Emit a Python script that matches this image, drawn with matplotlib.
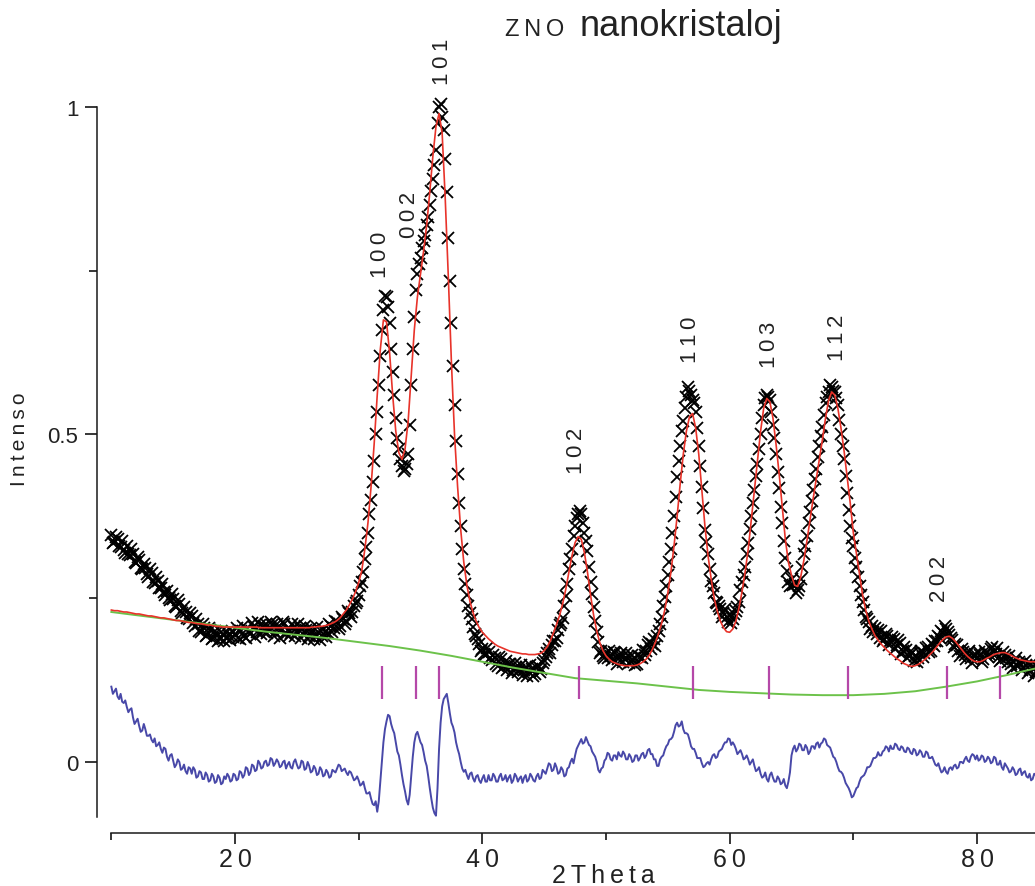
import numpy as np
import matplotlib.pyplot as plt

plt.rcParams['font.family'] = ['Liberation Sans', 'DejaVu Sans']

# 2theta grid of the scan (0.25 deg step) and the in-between points
two_theta = np.round(np.arange(10, 85.001, 0.25), 3)
two_theta_mid = two_theta[:-1] + 0.125

# observed intensity (black crosses) on the main grid
obs = [
    0.347, 0.336, 0.341, 0.328, 0.324, 0.329, 0.316, 0.317, 0.304, 0.308, 0.295, 0.296, 0.283, 0.288, 0.274, 0.276, 0.265, 0.260, 0.261, 0.248,
    0.249, 0.236, 0.241, 0.227, 0.229, 0.218, 0.223, 0.207, 0.211, 0.199, 0.205, 0.194, 0.202, 0.190, 0.197, 0.188, 0.196, 0.189, 0.192, 0.200,
    0.196, 0.190, 0.200, 0.193, 0.203, 0.195, 0.206, 0.198, 0.209, 0.200, 0.211, 0.203, 0.209, 0.199, 0.206, 0.200, 0.210, 0.202, 0.197, 0.206,
    0.199, 0.205, 0.195, 0.201, 0.193, 0.200, 0.192, 0.199, 0.192, 0.198, 0.197, 0.207, 0.205, 0.214, 0.208, 0.218, 0.216, 0.228, 0.229, 0.242,
    0.255, 0.275, 0.310, 0.350, 0.400, 0.460, 0.535, 0.620, 0.690, 0.710, 0.670, 0.595, 0.525, 0.478, 0.452, 0.448, 0.470, 0.575, 0.680, 0.745,
    0.770, 0.795, 0.820, 0.850, 0.890, 0.935, 1.000, 0.985, 0.920, 0.800, 0.670, 0.545, 0.440, 0.360, 0.295, 0.255, 0.228, 0.206, 0.193, 0.180,
    0.173, 0.163, 0.168, 0.156, 0.158, 0.147, 0.157, 0.147, 0.141, 0.149, 0.140, 0.145, 0.141, 0.133, 0.145, 0.137, 0.142, 0.134, 0.147, 0.142,
    0.155, 0.166, 0.167, 0.185, 0.190, 0.209, 0.220, 0.254, 0.295, 0.325, 0.360, 0.379, 0.378, 0.350, 0.322, 0.275, 0.236, 0.198, 0.166, 0.162,
    0.167, 0.169, 0.155, 0.166, 0.157, 0.166, 0.157, 0.162, 0.152, 0.159, 0.150, 0.160, 0.171, 0.169, 0.183, 0.180, 0.177, 0.200, 0.222, 0.252,
    0.285, 0.325, 0.375, 0.435, 0.483, 0.520, 0.557, 0.567, 0.552, 0.535, 0.482, 0.420, 0.354, 0.317, 0.276, 0.258, 0.242, 0.233, 0.228, 0.222,
    0.225, 0.218, 0.230, 0.245, 0.275, 0.298, 0.335, 0.375, 0.415, 0.455, 0.500, 0.545, 0.560, 0.552, 0.515, 0.470, 0.418, 0.365, 0.312, 0.275,
    0.280, 0.272, 0.262, 0.280, 0.318, 0.345, 0.382, 0.415, 0.448, 0.482, 0.512, 0.548, 0.565, 0.572, 0.565, 0.545, 0.500, 0.462, 0.410, 0.360,
    0.330, 0.298, 0.268, 0.245, 0.222, 0.213, 0.208, 0.205, 0.201, 0.200, 0.187, 0.192, 0.184, 0.187, 0.178, 0.181, 0.169, 0.171, 0.162, 0.166,
    0.162, 0.159, 0.170, 0.166, 0.175, 0.170, 0.177, 0.185, 0.190, 0.197, 0.203, 0.194, 0.186, 0.180, 0.170, 0.172, 0.163, 0.166, 0.158, 0.162,
    0.158, 0.163, 0.157, 0.166, 0.165, 0.175, 0.165, 0.161, 0.157, 0.163, 0.153, 0.150, 0.152, 0.146, 0.150, 0.143, 0.148, 0.140, 0.145, 0.138,
    0.142,
]

# observed intensity at the in-between points
obs_mid = [
    0.335, 0.344, 0.330, 0.338, 0.319, 0.318, 0.325, 0.306, 0.313, 0.296, 0.302, 0.287, 0.294, 0.275, 0.283, 0.266, 0.272, 0.255, 0.250, 0.257,
    0.238, 0.247, 0.230, 0.236, 0.220, 0.227, 0.212, 0.219, 0.200, 0.210, 0.193, 0.204, 0.187, 0.200, 0.185, 0.199, 0.184, 0.198, 0.186, 0.191,
    0.204, 0.187, 0.208, 0.189, 0.199, 0.212, 0.191, 0.214, 0.195, 0.207, 0.197, 0.214, 0.193, 0.211, 0.190, 0.213, 0.196, 0.192, 0.210, 0.192,
    0.210, 0.190, 0.207, 0.188, 0.205, 0.187, 0.206, 0.186, 0.203, 0.191, 0.210, 0.198, 0.216, 0.203, 0.222, 0.210, 0.230, 0.221, 0.238, 0.246,
    0.268, 0.290, 0.328, 0.378, 0.428, 0.500, 0.575, 0.660, 0.712, 0.695, 0.630, 0.560, 0.495, 0.462, 0.445, 0.455, 0.515, 0.630, 0.720, 0.760,
    0.785, 0.805, 0.832, 0.872, 0.912, 0.975, 1.005, 0.965, 0.870, 0.735, 0.605, 0.490, 0.395, 0.325, 0.272, 0.238, 0.218, 0.196, 0.188, 0.170,
    0.165, 0.174, 0.158, 0.163, 0.150, 0.160, 0.143, 0.154, 0.150, 0.136, 0.151, 0.137, 0.148, 0.141, 0.132, 0.148, 0.131, 0.145, 0.138, 0.151,
    0.160, 0.172, 0.178, 0.184, 0.202, 0.212, 0.238, 0.272, 0.310, 0.345, 0.372, 0.383, 0.365, 0.338, 0.298, 0.256, 0.215, 0.183, 0.170, 0.158,
    0.158, 0.162, 0.168, 0.150, 0.164, 0.152, 0.166, 0.151, 0.163, 0.148, 0.162, 0.158, 0.164, 0.178, 0.172, 0.188, 0.192, 0.210, 0.238, 0.268,
    0.305, 0.350, 0.405, 0.460, 0.505, 0.540, 0.572, 0.560, 0.548, 0.510, 0.452, 0.388, 0.336, 0.295, 0.268, 0.245, 0.238, 0.222, 0.233, 0.214,
    0.212, 0.226, 0.236, 0.262, 0.285, 0.318, 0.355, 0.396, 0.436, 0.478, 0.525, 0.556, 0.558, 0.535, 0.495, 0.442, 0.390, 0.338, 0.292, 0.268,
    0.270, 0.258, 0.268, 0.298, 0.330, 0.365, 0.398, 0.432, 0.465, 0.498, 0.530, 0.558, 0.575, 0.566, 0.556, 0.522, 0.482, 0.436, 0.385, 0.342,
    0.312, 0.282, 0.255, 0.232, 0.218, 0.203, 0.198, 0.196, 0.190, 0.185, 0.196, 0.178, 0.191, 0.172, 0.186, 0.165, 0.176, 0.158, 0.170, 0.154,
    0.153, 0.166, 0.160, 0.174, 0.168, 0.180, 0.184, 0.192, 0.200, 0.208, 0.198, 0.190, 0.176, 0.178, 0.162, 0.168, 0.157, 0.170, 0.151, 0.165,
    0.168, 0.152, 0.170, 0.160, 0.172, 0.168, 0.174, 0.154, 0.168, 0.158, 0.162, 0.144, 0.158, 0.152, 0.140, 0.154, 0.136, 0.150, 0.132, 0.146,
]

# calculated profile (red)
calc = [
    0.232, 0.231, 0.231, 0.230, 0.229, 0.229, 0.228, 0.227, 0.226, 0.226, 0.225, 0.224, 0.223, 0.223, 0.222, 0.221, 0.220, 0.220, 0.219, 0.218,
    0.217, 0.216, 0.216, 0.215, 0.214, 0.213, 0.213, 0.212, 0.211, 0.211, 0.210, 0.209, 0.209, 0.208, 0.207, 0.207, 0.206, 0.206, 0.206, 0.206,
    0.206, 0.206, 0.206, 0.206, 0.206, 0.206, 0.206, 0.206, 0.205, 0.205, 0.205, 0.205, 0.205, 0.205, 0.205, 0.205, 0.205, 0.205, 0.205, 0.205,
    0.205, 0.205, 0.205, 0.205, 0.205, 0.206, 0.206, 0.207, 0.207, 0.208, 0.209, 0.211, 0.213, 0.216, 0.220, 0.226, 0.232, 0.240, 0.249, 0.260,
    0.274, 0.292, 0.325, 0.365, 0.420, 0.485, 0.560, 0.630, 0.675, 0.672, 0.625, 0.560, 0.505, 0.472, 0.462, 0.478, 0.520, 0.590, 0.660, 0.710,
    0.745, 0.780, 0.820, 0.870, 0.925, 0.970, 0.990, 0.960, 0.860, 0.740, 0.610, 0.500, 0.420, 0.355, 0.305, 0.270, 0.245, 0.228, 0.215, 0.205,
    0.198, 0.193, 0.188, 0.184, 0.180, 0.177, 0.175, 0.173, 0.171, 0.169, 0.168, 0.167, 0.166, 0.165, 0.165, 0.164, 0.164, 0.164, 0.165, 0.166,
    0.170, 0.176, 0.185, 0.197, 0.210, 0.224, 0.242, 0.264, 0.290, 0.315, 0.335, 0.344, 0.340, 0.320, 0.290, 0.255, 0.224, 0.200, 0.182, 0.170,
    0.162, 0.157, 0.153, 0.151, 0.149, 0.148, 0.147, 0.147, 0.147, 0.147, 0.148, 0.150, 0.153, 0.157, 0.163, 0.172, 0.183, 0.196, 0.212, 0.232,
    0.258, 0.290, 0.330, 0.375, 0.425, 0.470, 0.505, 0.527, 0.532, 0.510, 0.470, 0.415, 0.360, 0.315, 0.280, 0.250, 0.230, 0.215, 0.205, 0.199,
    0.198, 0.203, 0.215, 0.235, 0.260, 0.290, 0.325, 0.370, 0.415, 0.460, 0.505, 0.540, 0.555, 0.550, 0.525, 0.485, 0.440, 0.390, 0.340, 0.305,
    0.285, 0.270, 0.268, 0.283, 0.308, 0.338, 0.370, 0.402, 0.432, 0.462, 0.492, 0.525, 0.552, 0.565, 0.560, 0.540, 0.510, 0.475, 0.435, 0.395,
    0.350, 0.318, 0.285, 0.255, 0.232, 0.215, 0.203, 0.193, 0.186, 0.180, 0.175, 0.170, 0.166, 0.162, 0.158, 0.155, 0.151, 0.149, 0.147, 0.146,
    0.147, 0.149, 0.152, 0.156, 0.160, 0.165, 0.170, 0.176, 0.182, 0.187, 0.191, 0.192, 0.189, 0.184, 0.178, 0.172, 0.166, 0.161, 0.157, 0.154,
    0.153, 0.153, 0.155, 0.158, 0.160, 0.163, 0.165, 0.166, 0.167, 0.167, 0.165, 0.163, 0.160, 0.158, 0.156, 0.155, 0.154, 0.153, 0.153, 0.153,
    0.153,
]

# difference curve (blue) on the main grid
diff = [
    0.115, 0.108, 0.100, 0.104, 0.090, 0.084, 0.080, 0.068, 0.062, 0.055, 0.048, 0.050, 0.040, 0.034, 0.036, 0.026, 0.020, 0.022, 0.008, 0.010,
    0.002, -0.004, 0.000, -0.010, -0.014, -0.008, -0.018, -0.012, -0.022, -0.016, -0.026, -0.020, -0.028, -0.022, -0.030, -0.024, -0.032, -0.026, -0.022, -0.028,
    -0.020, -0.026, -0.016, -0.020, -0.010, -0.016, -0.006, -0.012, -0.002, -0.008, 0.002, -0.004, 0.004, -0.002, 0.000, -0.006, 0.002, -0.004, -0.008, 0.000,
    -0.004, -0.008, 0.000, -0.010, -0.006, -0.014, -0.010, -0.018, -0.012, -0.020, -0.016, -0.022, -0.014, -0.010, -0.006, -0.012, -0.016, -0.014, -0.022, -0.026,
    -0.028, -0.034, -0.040, -0.048, -0.056, -0.066, -0.076, -0.030, 0.030, 0.062, 0.070, 0.050, 0.030, 0.010, -0.020, -0.045, -0.065, -0.020, 0.030, 0.046,
    0.030, 0.015, -0.006, -0.040, -0.070, -0.082, 0.020, 0.085, 0.100, 0.090, 0.060, 0.045, 0.020, 0.000, -0.015, -0.020, -0.018, -0.025, -0.022, -0.028,
    -0.025, -0.030, -0.020, -0.028, -0.022, -0.030, -0.018, -0.026, -0.030, -0.020, -0.028, -0.022, -0.025, -0.032, -0.020, -0.027, -0.022, -0.030, -0.018, -0.024,
    -0.015, -0.010, -0.004, -0.012, -0.008, -0.016, -0.012, -0.020, -0.008, 0.005, 0.010, 0.025, 0.035, 0.030, 0.032, 0.024, 0.012, 0.000, -0.016, -0.008,
    0.005, 0.012, 0.002, 0.010, 0.015, 0.008, 0.012, 0.004, 0.008, 0.002, 0.010, 0.006, 0.014, 0.010, 0.020, 0.012, 0.004, -0.006, 0.008, 0.018,
    0.027, 0.035, 0.046, 0.060, 0.056, 0.050, 0.044, 0.034, 0.020, 0.014, 0.006, -0.002, -0.006, 0.000, 0.004, 0.012, 0.008, 0.018, 0.026, 0.030,
    0.035, 0.030, 0.020, 0.015, 0.012, 0.006, 0.004, 0.000, -0.006, -0.012, -0.018, -0.022, -0.026, -0.020, -0.024, -0.030, -0.026, -0.032, -0.036, -0.030,
    0.010, 0.025, 0.020, 0.026, 0.018, 0.022, 0.016, 0.024, 0.028, 0.022, 0.030, 0.034, 0.024, 0.015, 0.006, -0.008, -0.015, -0.024, -0.036, -0.046,
    -0.052, -0.040, -0.030, -0.022, -0.015, -0.008, 0.000, 0.006, 0.015, 0.010, 0.018, 0.022, 0.025, 0.020, 0.026, 0.018, 0.022, 0.015, 0.020, 0.012,
    0.018, 0.012, 0.015, 0.008, 0.014, 0.006, 0.002, -0.006, -0.010, -0.014, -0.015, -0.010, -0.012, -0.004, -0.008, 0.000, 0.004, 0.002, 0.008, 0.010,
    0.010, 0.004, 0.008, 0.002, 0.005, 0.000, 0.006, -0.004, -0.008, -0.002, -0.010, -0.014, -0.012, -0.018, -0.010, -0.016, -0.022, -0.018, -0.026, -0.020,
    -0.024,
]

# difference curve at the in-between points
diff_mid = [
    0.104, 0.112, 0.096, 0.092, 0.094, 0.076, 0.082, 0.058, 0.066, 0.046, 0.058, 0.040, 0.042, 0.030, 0.024, 0.030, 0.014, 0.020, 0.002, 0.012,
    -0.008, 0.004, -0.012, -0.004, -0.018, -0.010, -0.008, -0.024, -0.014, -0.026, -0.016, -0.030, -0.018, -0.032, -0.020, -0.034, -0.022, -0.018, -0.030, -0.018,
    -0.028, -0.014, -0.024, -0.008, -0.020, -0.004, -0.014, 0.002, -0.010, 0.000, -0.006, 0.006, -0.006, 0.004, -0.008, 0.000, -0.010, 0.000, -0.010, 0.004,
    -0.010, 0.002, -0.012, 0.000, -0.016, -0.006, -0.020, -0.008, -0.022, -0.012, -0.024, -0.012, -0.016, -0.004, -0.014, -0.010, -0.020, -0.016, -0.028, -0.022,
    -0.036, -0.030, -0.048, -0.046, -0.064, -0.060, -0.060, 0.000, 0.050, 0.072, 0.058, 0.044, 0.016, -0.004, -0.034, -0.058, -0.050, 0.008, 0.042, 0.038,
    0.026, 0.002, -0.022, -0.056, -0.078, -0.040, 0.060, 0.096, 0.104, 0.074, 0.054, 0.030, 0.012, -0.010, -0.012, -0.026, -0.016, -0.030, -0.020, -0.032,
    -0.020, -0.030, -0.028, -0.018, -0.030, -0.022, -0.028, -0.020, -0.024, -0.032, -0.018, -0.030, -0.022, -0.024, -0.030, -0.018, -0.028, -0.022, -0.026, -0.012,
    -0.018, -0.002, -0.014, -0.002, -0.018, -0.008, -0.022, -0.010, 0.000, -0.002, 0.020, 0.030, 0.028, 0.038, 0.026, 0.016, 0.008, -0.012, -0.010, 0.002,
    0.014, 0.004, 0.010, 0.004, 0.010, 0.016, 0.004, 0.012, 0.000, 0.010, 0.002, 0.012, 0.006, 0.018, 0.012, 0.004, -0.006, 0.004, 0.010, 0.024,
    0.034, 0.038, 0.056, 0.054, 0.062, 0.044, 0.042, 0.024, 0.020, 0.006, 0.006, -0.008, -0.002, -0.004, 0.010, 0.006, 0.016, 0.020, 0.030, 0.036,
    0.026, 0.026, 0.012, 0.018, 0.004, 0.010, -0.004, 0.004, -0.014, -0.008, -0.024, -0.016, -0.030, -0.016, -0.030, -0.022, -0.034, -0.026, -0.040, -0.016,
    0.020, 0.016, 0.028, 0.018, 0.026, 0.012, 0.024, 0.020, 0.030, 0.028, 0.036, 0.026, 0.022, 0.008, 0.000, -0.014, -0.018, -0.032, -0.040, -0.054,
    -0.046, -0.038, -0.024, -0.020, -0.008, -0.006, 0.006, 0.008, 0.010, 0.016, 0.024, 0.016, 0.020, 0.028, 0.020, 0.024, 0.016, 0.022, 0.014, 0.020,
    0.010, 0.018, 0.008, 0.016, 0.006, 0.008, -0.004, -0.002, -0.016, -0.008, -0.018, -0.008, -0.006, -0.010, 0.000, -0.002, 0.008, 0.000, 0.012, 0.004,
    0.002, 0.010, 0.000, 0.008, -0.002, 0.008, -0.004, 0.002, -0.012, -0.006, -0.016, -0.008, -0.020, -0.012, -0.020, -0.014, -0.024, -0.028, -0.018, -0.028,
]

# background (green), 2.5 deg step
bg_theta = np.arange(10, 85.001, 2.5)
bg = [0.229, 0.223, 0.217, 0.211, 0.205, 0.199, 0.194, 0.189, 0.183, 0.177, 0.170,
      0.162, 0.153, 0.144, 0.136, 0.128, 0.124, 0.120, 0.115, 0.110, 0.107,
      0.105, 0.103, 0.102, 0.102, 0.104, 0.108, 0.115, 0.123, 0.133, 0.144]

# Bragg reflection markers
bragg = [31.9, 34.6, 36.5, 47.8, 57.0, 63.2, 69.55, 77.6, 81.9]

# peak labels
hkl = ['100', '002', '101', '102', '110', '103', '112', '202']
hkl_x = [31.8, 34.1, 36.8, 47.65, 56.8, 63.25, 68.75, 76.95]
hkl_y = [0.775, 0.837, 1.07, 0.477, 0.646, 0.638, 0.649, 0.281]

TS = '\u2009'  # thin space for the letter-spaced labels
txt = '#222222'

fig = plt.figure(figsize=(10.35, 8.87), dpi=100)
ax = fig.add_axes([97 / 1035, (887 - 818) / 887, (1035 - 97) / 1035, (818 - 29.4) / 887])

ax.plot(two_theta, obs, 'x', color='k', ms=8.5, mew=1.3, zorder=2)
ax.plot(two_theta_mid, obs_mid, 'x', color='k', ms=8.5, mew=1.3, zorder=2)
ax.plot(bg_theta, bg, color='#6cc24a', lw=1.4, zorder=3)
ax.plot(two_theta, calc, color='#e8332a', lw=1.2, zorder=4)
ax.vlines(bragg, 0.096, 0.147, color='#b548a8', lw=1.6, zorder=3)

d_x = np.concatenate([two_theta, two_theta_mid])
d_y = np.concatenate([diff, diff_mid])
order = np.argsort(d_x)
ax.plot(d_x[order], d_y[order], color='#4848a8', lw=1.4, zorder=3)

for h, x, y in zip(hkl, hkl_x, hkl_y):
    ax.text(x, y, TS.join(h), rotation=90, ha='center', va='center',
            fontsize=16, color=txt)

ax.set_xlim(8.84, 84.69)
ax.set_ylim(-0.084, 1.12)

for s in ['top', 'right']:
    ax.spines[s].set_visible(False)
ax.spines['left'].set_bounds(-0.084, 1.0)
ax.spines['bottom'].set_bounds(10, 84.69)
ax.spines['bottom'].set_position(('outward', 11.5))
for s in ['left', 'bottom']:
    ax.spines[s].set_linewidth(1.1)
    ax.spines[s].set_color('#1a1a1a')

ax.set_yticks([0, 0.5, 1], labels=['0', '0.5', '1'])
ax.set_yticks([0.25, 0.75], minor=True)
ax.set_xticks([20, 40, 60, 80], labels=[TS.join(str(v)) for v in [20, 40, 60, 80]])
ax.set_xticks([10, 30, 50, 70], minor=True)
ax.tick_params(axis='y', which='major', length=8.5, width=1.1, pad=5, labelsize=16, labelcolor=txt)
ax.tick_params(axis='y', which='minor', length=6, width=1.1)
ax.tick_params(axis='x', which='major', length=8, width=1.1, pad=2, labelsize=18, labelcolor=txt)
ax.tick_params(axis='x', which='minor', length=5, width=1.1)

fig.text(603 / 1035, 1 - 876 / 887, TS.join('2Theta'), ha='center', va='center',
         fontsize=18, color=txt)
fig.text(20 / 1035, 1 - 439 / 887, TS.join('Intenso'), ha='center', va='center',
         rotation=90, fontsize=15, color=txt)
fig.text(505 / 1035, 1 - 36 / 887, TS.join('ZNO'), ha='left', va='baseline',
         fontsize=17, color=txt)
fig.text(580 / 1035, 1 - 36 / 887, 'nanokristaloj', ha='left', va='baseline',
         fontsize=26, color=txt)

fig.savefig('out.png', dpi=100)
